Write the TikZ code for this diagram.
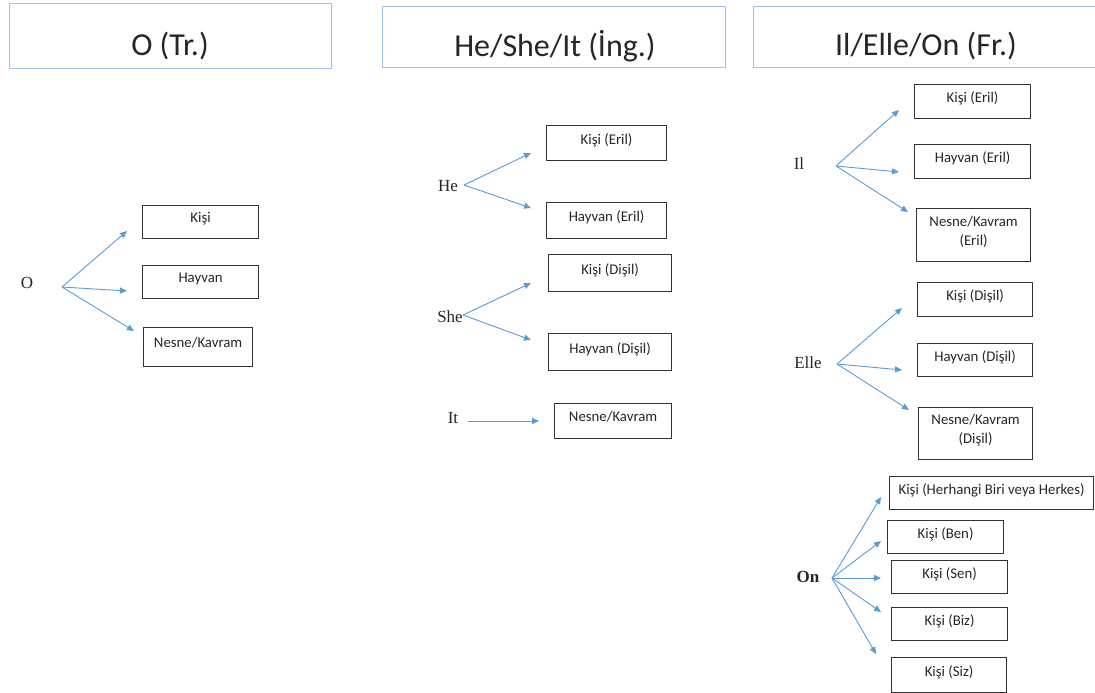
\documentclass[tikz,border=0pt]{standalone}
\usepackage{fontspec}
\setmainfont{Liberation Serif}
\newfontfamily\calib{Carlito}
\usetikzlibrary{arrows.meta}
\definecolor{hdrblue}{HTML}{9DC3E6}
\definecolor{arrblue}{HTML}{5B9BD5}
\definecolor{boxgray}{HTML}{333333}
\tikzset{
  hdr/.style={draw=hdrblue, line width=1.4pt, fill=white, inner sep=0pt, anchor=north west},
  hdrtxt/.style={font=\calib\fontsize{32}{36}\selectfont, text=black!85, inner sep=0pt},
  bx/.style={draw=boxgray, line width=1.2pt, inner sep=0pt, anchor=north west, align=center, text depth=9pt, font=\calib\fontsize{14.8}{19}\selectfont, text=black!85},
  lbl/.style={inner sep=0pt, font=\fontsize{17}{19}\selectfont, text=black!85},
  arr/.style={draw=arrblue, line width=0.9pt, -{Triangle[length=7pt,width=6pt]}}
}
\newcommand{\bxn}[6]{\node[bx, minimum width=#3-#1, minimum height=#4-#2] (#5) at (#1,#2) {#6};}
\begin{document}
\begin{tikzpicture}[x=1pt,y=-1pt]
\useasboundingbox (0,0) rectangle (1095,693);
\fill[white] (0,0) rectangle (1095,693);
% headers
\node[hdr, minimum width=322, minimum height=65] (h1) at (9,3) {};
\node[hdrtxt] (h1t) at (170,46) {O (Tr.)};
\node[hdr, minimum width=343, minimum height=61] (h2) at (382,6) {};
\node[hdrtxt] (h2t) at (555,46) {He/She/It (İng.)};
\node[hdr, minimum width=350, minimum height=61] (h3) at (753,6) {};
\node[hdrtxt] (h3t) at (926,46) {Il/Elle/On (Fr.)};

% Column 1
\node[lbl] (o) at (27,283) {O};
\coordinate (of) at (62,287);
\bxn{142}{205}{258}{238}{o1}{Kişi}
\bxn{142}{265}{258}{298}{o2}{Hayvan}
\bxn{143}{327}{252}{366}{o3}{Nesne/Kavram}
\coordinate (ot1) at (127,231);
\coordinate (ot2) at (127,291);
\coordinate (ot3) at (134,331);
\draw[arr] (of) -- (ot1);
\draw[arr] (of) -- (ot2);
\draw[arr] (of) -- (ot3);

% Column 2
\node[lbl] (he) at (448,186) {He};
\coordinate (hef) at (464,185);
\bxn{546}{125}{666}{160}{he1}{Kişi (Eril)}
\bxn{546}{202}{666}{238}{he2}{Hayvan (Eril)}
\coordinate (het1) at (531,153);
\coordinate (het2) at (531,208);
\draw[arr] (hef) -- (het1);
\draw[arr] (hef) -- (het2);

\node[lbl] (she) at (450,317) {She};
\coordinate (shef) at (463,315);
\bxn{548}{254}{671}{291}{sh1}{Kişi (Dişil)}
\bxn{548}{333}{671}{370}{sh2}{Hayvan (Dişil)}
\coordinate (sht1) at (531,283);
\coordinate (sht2) at (531,340);
\draw[arr] (shef) -- (sht1);
\draw[arr] (shef) -- (sht2);

\node[lbl] (it) at (453,418) {It};
\coordinate (itf) at (468,421);
\bxn{554}{403}{671}{438}{it1}{Nesne/Kavram}
\coordinate (itt) at (539,421);
\draw[arr] (itf) -- (itt);

% Column 3
\node[lbl] (il) at (799,164) {Il};
\coordinate (ilf) at (836,166);
\bxn{914}{84}{1030}{118}{il1}{Kişi (Eril)}
\bxn{914}{144}{1030}{178}{il2}{Hayvan (Eril)}
\bxn{916}{208}{1030}{261}{il3}{Nesne/Kavram\\(Eril)}
\coordinate (ilt1) at (899,110);
\coordinate (ilt2) at (899,172);
\coordinate (ilt3) at (908,212);
\draw[arr] (ilf) -- (ilt1);
\draw[arr] (ilf) -- (ilt2);
\draw[arr] (ilf) -- (ilt3);

\node[lbl] (elle) at (808,363) {Elle};
\coordinate (ellef) at (837,364);
\bxn{917}{282}{1032}{316}{el1}{Kişi (Dişil)}
\bxn{917}{343}{1032}{376}{el2}{Hayvan (Dişil)}
\bxn{918}{407}{1032}{459}{el3}{Nesne/Kavram\\(Dişil)}
\coordinate (elt1) at (902,308);
\coordinate (elt2) at (902,370);
\coordinate (elt3) at (909,410);
\draw[arr] (ellef) -- (elt1);
\draw[arr] (ellef) -- (elt2);
\draw[arr] (ellef) -- (elt3);

\node[lbl, font=\bfseries\fontsize{17}{19}\selectfont] (on) at (808,577) {On};
\coordinate (onf) at (832,578);
\bxn{889}{476}{1093}{509}{on1}{Kişi (Herhangi Biri veya Herkes)}
\bxn{887}{520}{1003}{553}{on2}{Kişi (Ben)}
\bxn{891}{560}{1007}{593}{on3}{Kişi (Sen)}
\bxn{891}{607}{1007}{640}{on4}{Kişi (Biz)}
\bxn{891}{657}{1006}{692}{on5}{Kişi (Siz)}
\coordinate (ont1) at (881,497);
\coordinate (ont2) at (881,541);
\coordinate (ont3) at (881,578);
\coordinate (ont4) at (881,612);
\coordinate (ont5) at (876,654);
\foreach \t in {ont1,ont2,ont3,ont4,ont5} \draw[arr] (onf) -- (\t);
\end{tikzpicture}
\end{document}
